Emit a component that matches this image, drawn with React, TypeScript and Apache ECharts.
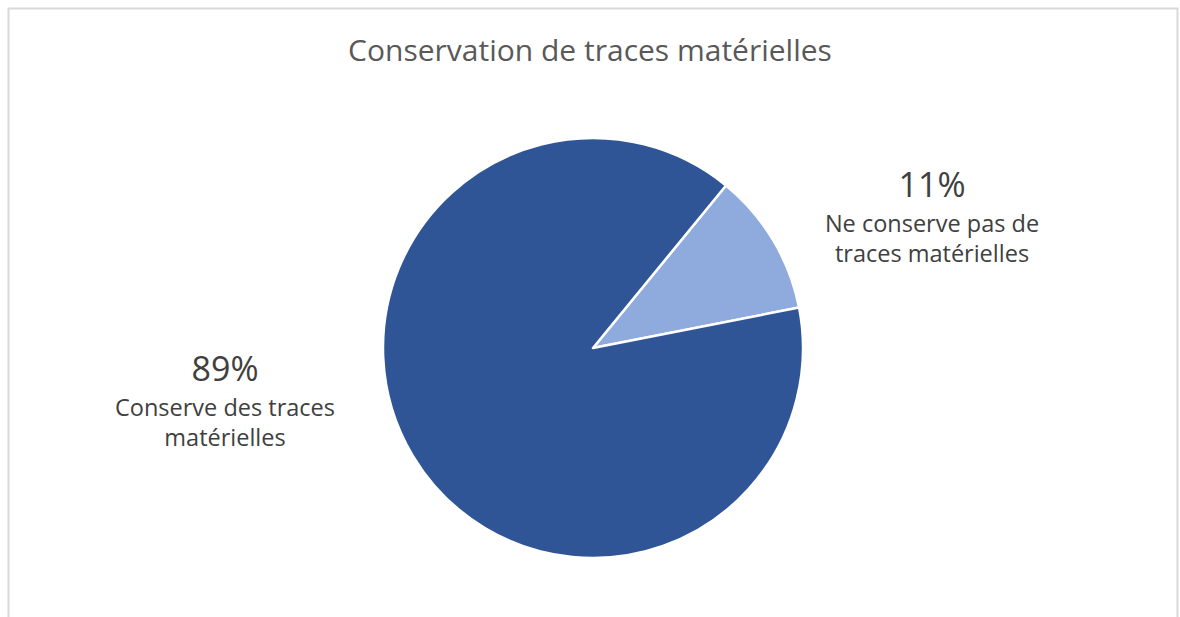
import React, { useEffect, useRef } from "react";
import * as echarts from "echarts";

const TITLE = "Conservation de traces matérielles";
const categories = ["Ne conserve pas de\ntraces matérielles", "Conserve des traces\nmatérielles"];
const values = [11, 89];
const colors = ["#8FAADC", "#2F5597"];

export default function App() {
  const ref = useRef<HTMLDivElement>(null);
  useEffect(() => {
    if (!ref.current) return;
    const chart = echarts.init(ref.current, undefined, { renderer: "svg" });
    const font = "'Open Sans', sans-serif";
    chart.setOption({
      animation: false,
      backgroundColor: "#ffffff",
      title: {
        text: TITLE,
        left: "center",
        top: 29,
        textStyle: { color: "#595959", fontSize: 30, fontWeight: "normal", fontFamily: font },
      },
      graphic: [
        {
          type: "rect",
          shape: { x: 8.5, y: 8.5, width: 1169, height: 700 },
          style: { fill: "none", stroke: "#d9d9d9", lineWidth: 2 },
          silent: true,
        },
      ],
      series: [
        {
          type: "pie",
          center: [593, 348],
          radius: 210,
          startAngle: 50.7,
          clockwise: true,
          itemStyle: { borderColor: "#ffffff", borderWidth: 2.5 },
          labelLine: { show: false },
          label: {
            show: true,
            position: "outside",
            formatter: "{p|{d}%}\n{n|{b}}",
            fontFamily: font,
            rich: {
              p: { fontSize: 34, color: "#404040", lineHeight: 48, align: "center", fontFamily: font },
              n: { fontSize: 23.5, color: "#404040", lineHeight: 30, align: "center", fontFamily: font },
            },
          },
          labelLayout: (params: any) =>
            params.dataIndex === 0
              ? { x: 932, y: 214, align: "center", verticalAlign: "middle" }
              : { x: 225, y: 398, align: "center", verticalAlign: "middle" },
          data: categories.map((c, i) => ({ name: c, value: values[i], itemStyle: { color: colors[i] } })),
        },
      ],
    });
    return () => chart.dispose();
  }, []);
  return (
    <div
      ref={ref}
      style={{ position: "fixed", left: 0, top: 0, width: 1180, height: 617 }}
    />
  );
}
